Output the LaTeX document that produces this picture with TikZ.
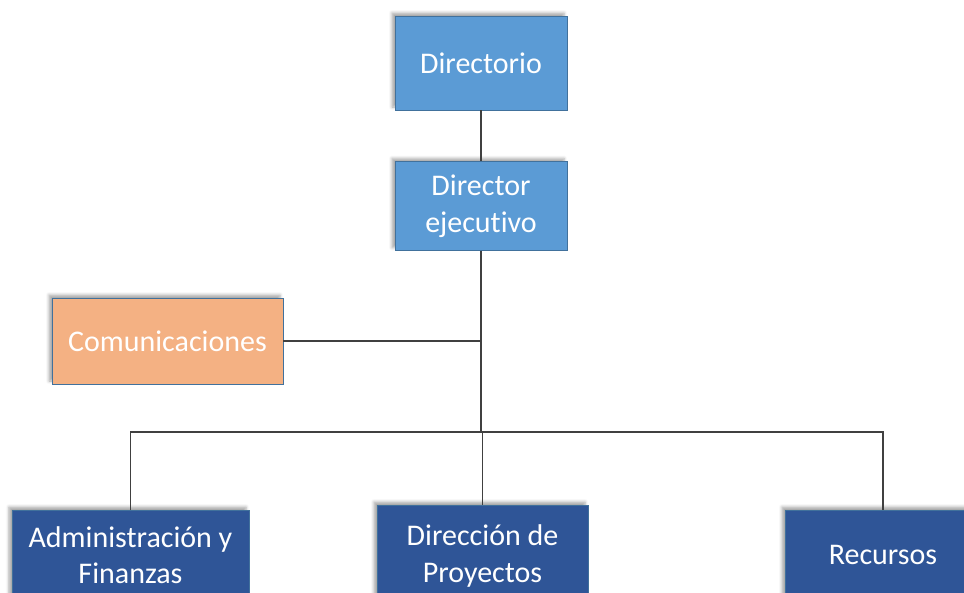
\documentclass[tikz,border=0pt]{standalone}
\usepackage{fontspec}
\setmainfont{Carlito}[Ligatures=NoCommon]
\usepackage{tikz}
\usetikzlibrary{positioning,shadows.blur}

\definecolor{lightblue}{HTML}{5B9BD5}
\definecolor{darkblue}{HTML}{2F5597}
\definecolor{peach}{HTML}{F4B183}
\definecolor{edgeblue}{HTML}{41719C}
\definecolor{linegray}{HTML}{404040}

\begin{document}
\begin{tikzpicture}[x=1pt, y=-1pt,
  box/.style={draw=edgeblue, line width=0.8pt, text=white, inner sep=0pt, align=center,
    font=\fontsize{30}{37}\selectfont,
    blur shadow={shadow xshift=-3pt, shadow yshift=3pt, shadow blur radius=3pt, shadow opacity=35}},
  top/.style={box, fill=lightblue},
  side/.style={box, fill=peach},
  dept/.style={box, fill=darkblue, minimum height=90pt},
  conn/.style={draw=linegray, line width=1.1pt}
]
\useasboundingbox (0,0) rectangle (964,592);
\clip (0,0) rectangle (964,592);

\node[top, minimum width=172pt, minimum height=94pt] (dir) at (481,63) {Directorio};
\node[top, minimum width=172pt, minimum height=89pt] (exec) at (481,206) {Director\\ejecutivo};

\node[side, minimum width=231pt, minimum height=86pt] (com) at (167.5,341) {Comunicaciones};

\node[dept, minimum width=237pt, font=\fontsize{30}{36}\selectfont] (admin) at (130.5,555) {Administración y\\Finanzas};
\node[dept, minimum width=211pt, minimum height=102pt] (proy) at (482.5,556) {Dirección de\\Proyectos};
\node[dept, minimum width=196pt] (rec) at (883,555) {Recursos};

\coordinate (bar) at (481,432);

\draw[conn] (dir) -- (exec);
\draw[conn] (exec) -- (bar);
\draw[conn] (com.east) -- (com.east -| bar);
\draw[conn] (admin.north) |- (bar) -| (rec.north);
\draw[conn] (proy.north) |- (bar);
\end{tikzpicture}
\end{document}
